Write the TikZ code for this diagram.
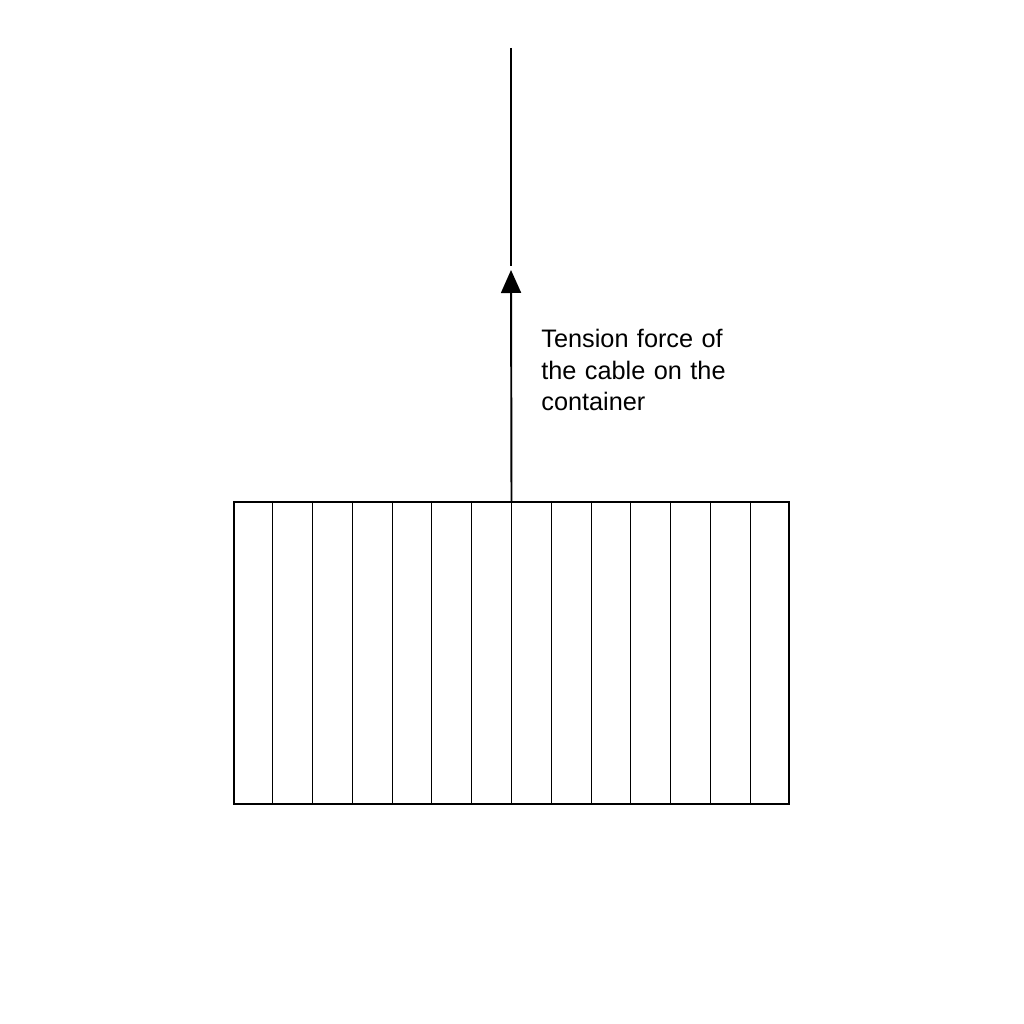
\documentclass[tikz,border=0pt]{standalone}
\usepackage{fontspec}
\setmainfont{Liberation Sans}
\usetikzlibrary{arrows.meta, positioning, calc}

\tikzset{
  crate/.style={draw=black, line width=1.2pt, minimum width=11.1cm, minimum height=6.04cm, inner sep=0pt},
  slat/.style={draw=black, line width=0.5pt},
  cable/.style={draw=black, line width=1.1pt},
  force/.style={draw=black, line width=1.1pt, -{Triangle[length=0.46cm, width=0.4cm]}},
  forcelabel/.style={font=\fontsize{14.4}{17.9}\selectfont, text width=4.5cm, align=left, inner sep=0pt, anchor=north west}
}

\begin{document}
\begin{tikzpicture}[x=0.02cm, y=-0.02cm]
  \useasboundingbox (0, 0) rectangle (1024, 1024);

  % Container
  \node[crate] (container) at (511.5, 653) {};
  \foreach \i in {1,...,13} {
    \draw[slat] ($(container.north west)!\i/14!(container.north east)$) -- ($(container.south west)!\i/14!(container.south east)$);
  }
  \node[crate] at (container) {};

  % Cable and tension force
  \coordinate (cabletop) at (511, 48);
  \coordinate (cableend) at (511, 266);
  \coordinate (forcetip) at (511, 270);
  \draw[cable] (cabletop) -- (cableend);
  \draw[force] (container.north) -- (forcetip);

  % Label
  \node[forcelabel] (label) at (541, 329) {Tension force of\\the cable on the\\container};
\end{tikzpicture}
\end{document}
